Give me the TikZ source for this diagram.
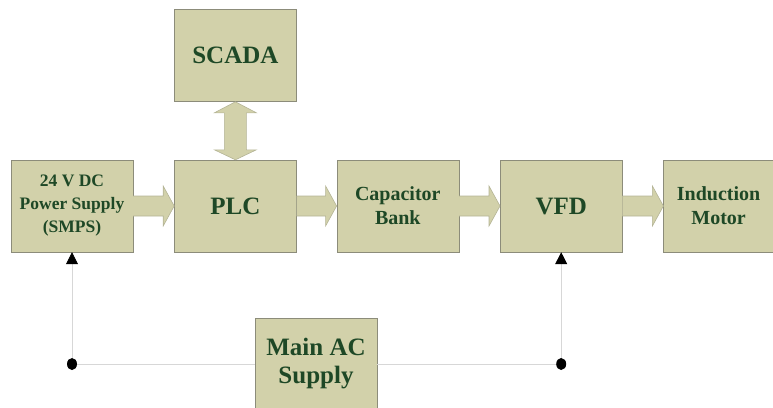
\documentclass[tikz,border=0pt]{standalone}
\usepackage{fontspec}
\setmainfont{Liberation Serif}
\usepackage{tikz}
\usetikzlibrary{positioning,calc,arrows.meta}

\definecolor{boxfill}{RGB}{210,209,170}
\definecolor{boxline}{RGB}{140,140,122}
\definecolor{arrline}{RGB}{180,180,150}
\definecolor{txtgreen}{RGB}{30,72,38}
\definecolor{wire}{RGB}{215,215,215}

\tikzset{
	block/.style={draw=boxline, fill=boxfill, minimum width=122pt, minimum height=92pt, inner sep=0pt, align=center, text=txtgreen},
	flow/.style={draw=arrline, fill=boxfill, line width=0.6pt},
	feed/.style={draw=wire, line width=0.8pt},
	bigtxt/.style={font=\fontsize{25}{28}\selectfont\bfseries},
	midtxt/.style={font=\fontsize{20}{24}\selectfont\bfseries},
	smalltxt/.style={font=\fontsize{17.5}{23}\selectfont\bfseries}
}

% horizontal block arrow from one box to the next
\newcommand\blockarr[2]{%
	\draw[flow] ($(#1.east)+(0,10pt)$) -- ($(#2.west)+(-11pt,10pt)$) -- ($(#2.west)+(-11pt,20pt)$) -- (#2.west)
		-- ($(#2.west)+(-11pt,-20pt)$) -- ($(#2.west)+(-11pt,-10pt)$) -- ($(#1.east)+(0,-10pt)$);}

\begin{document}
\begin{tikzpicture}[x=1pt, y=1pt]
	\clip (0,0) rectangle (773,-407);
	
	\node[block, smalltxt] (smps) at (72,-206) {24 V DC\\Power Supply\\(SMPS)};
	\node[block, bigtxt, right=41pt of smps] (plc) {PLC};
	\node[block, midtxt, right=40pt of plc] (cap) {Capacitor\\Bank};
	\node[block, bigtxt, right=41pt of cap] (vfd) {VFD};
	\node[block, midtxt, minimum width=110pt, right=41pt of vfd] (motor) {Induction\\Motor};
	\node[block, bigtxt, above=58pt of plc] (scada) {SCADA};
	\node[block, bigtxt] (mainac) at (316,-364) {Main AC\\Supply};
	
	\blockarr{smps}{plc}
	\blockarr{plc}{cap}
	\blockarr{cap}{vfd}
	\blockarr{vfd}{motor}
	
	% two-way link to SCADA
	\draw[flow] (scada.south) -- ($(scada.south)+(-21pt,-11pt)$) -- ($(scada.south)+(-11pt,-11pt)$)
		-- ($(plc.north)+(-11pt,10pt)$) -- ($(plc.north)+(-21pt,10pt)$) -- (plc.north)
		-- ($(plc.north)+(21pt,10pt)$) -- ($(plc.north)+(11pt,10pt)$)
		-- ($(scada.south)+(11pt,-11pt)$) -- ($(scada.south)+(21pt,-11pt)$) -- cycle;
	
	% supply wiring
	\coordinate (jl) at (smps.south |- mainac.west);
	\coordinate (jr) at (vfd.south |- mainac.west);
	\draw[feed] (jl) -- (mainac.west);
	\draw[feed] (mainac.east) -- (jr);
	\draw[feed, -{Triangle[width=12pt,length=12pt,black]}] (jl) -- (smps.south);
	\draw[feed, -{Triangle[width=12pt,length=12pt,black]}] (jr) -- (vfd.south);
	\fill (jl) ellipse (5pt and 6pt);
	\fill (jr) ellipse (5pt and 6pt);
\end{tikzpicture}
\end{document}
